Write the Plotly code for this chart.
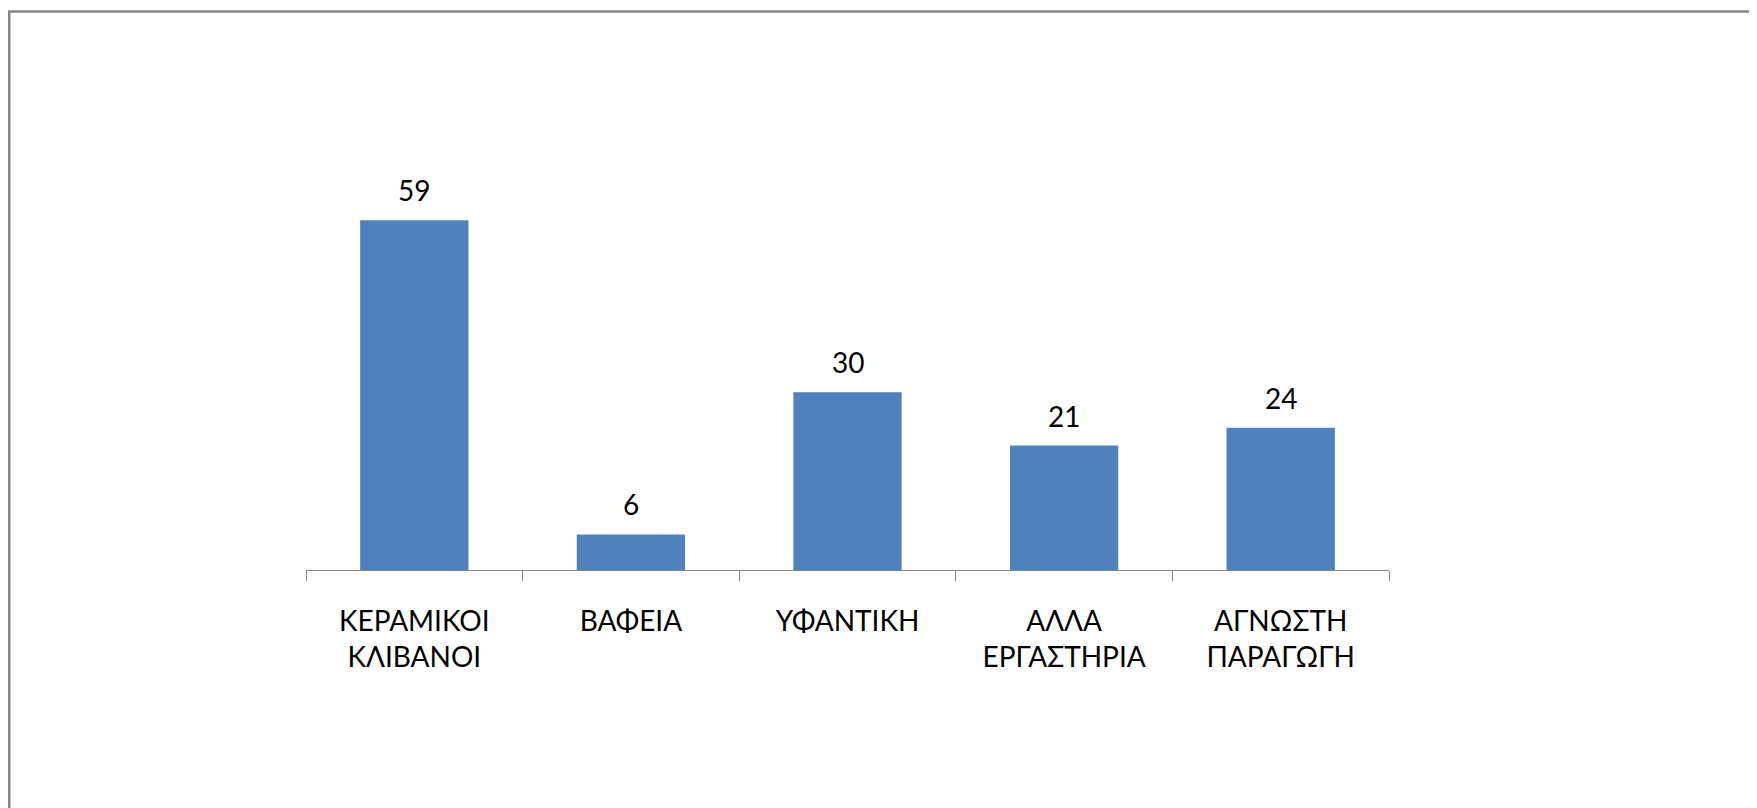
import plotly.graph_objects as go

categories = ["ΚΕΡΑΜΙΚΟΙ<br>ΚΛΙΒΑΝΟΙ", "ΒΑΦΕΙΑ", "ΥΦΑΝΤΙΚΗ", "ΑΛΛΑ<br>ΕΡΓΑΣΤΗΡΙΑ", "ΑΓΝΩΣΤΗ<br>ΠΑΡΑΓΩΓΗ"]
values = [59, 6, 30, 21, 24]

FONT = "Lato, Liberation Sans, Arial, sans-serif"
BAR_COLOR = "#4F81BD"
AXIS_COLOR = "#868686"

fig = go.Figure(go.Bar(x=categories, y=values, marker=dict(color=BAR_COLOR, line=dict(width=0)),
                       hoverinfo="x+y"))

for c, v in zip(categories, values):
    fig.add_annotation(x=c, y=v, text=str(v), showarrow=False, yanchor="middle", yshift=30,
                       font=dict(family=FONT, size=28, color="black"))

# outer chart frame (runs off right and bottom edges of the window)
fig.add_shape(type="rect", xref="paper", yref="paper", x0=-0.2740, x1=1.6, y0=-0.8, y1=1.346,
              line=dict(color=AXIS_COLOR, width=2.5), fillcolor="rgba(0,0,0,0)", layer="below")

fig.update_layout(
    width=1757, height=808,
    margin=dict(l=298, r=376, t=147, b=246),
    paper_bgcolor="white", plot_bgcolor="white",
    bargap=0.5, showlegend=False,
    font=dict(family=FONT, size=28, color="black"),
    xaxis=dict(showline=True, linecolor=AXIS_COLOR, linewidth=1.3, ticks="outside", tickson="boundaries",
               ticklen=10, tickcolor=AXIS_COLOR, tickwidth=1.3, showgrid=False, zeroline=False,
               tickfont=dict(family=FONT, size=28, color="black"), ticklabelstandoff=26),
    yaxis=dict(range=[0, 70], visible=False, showgrid=False, zeroline=False),
)

fig.write_html("out.html")
